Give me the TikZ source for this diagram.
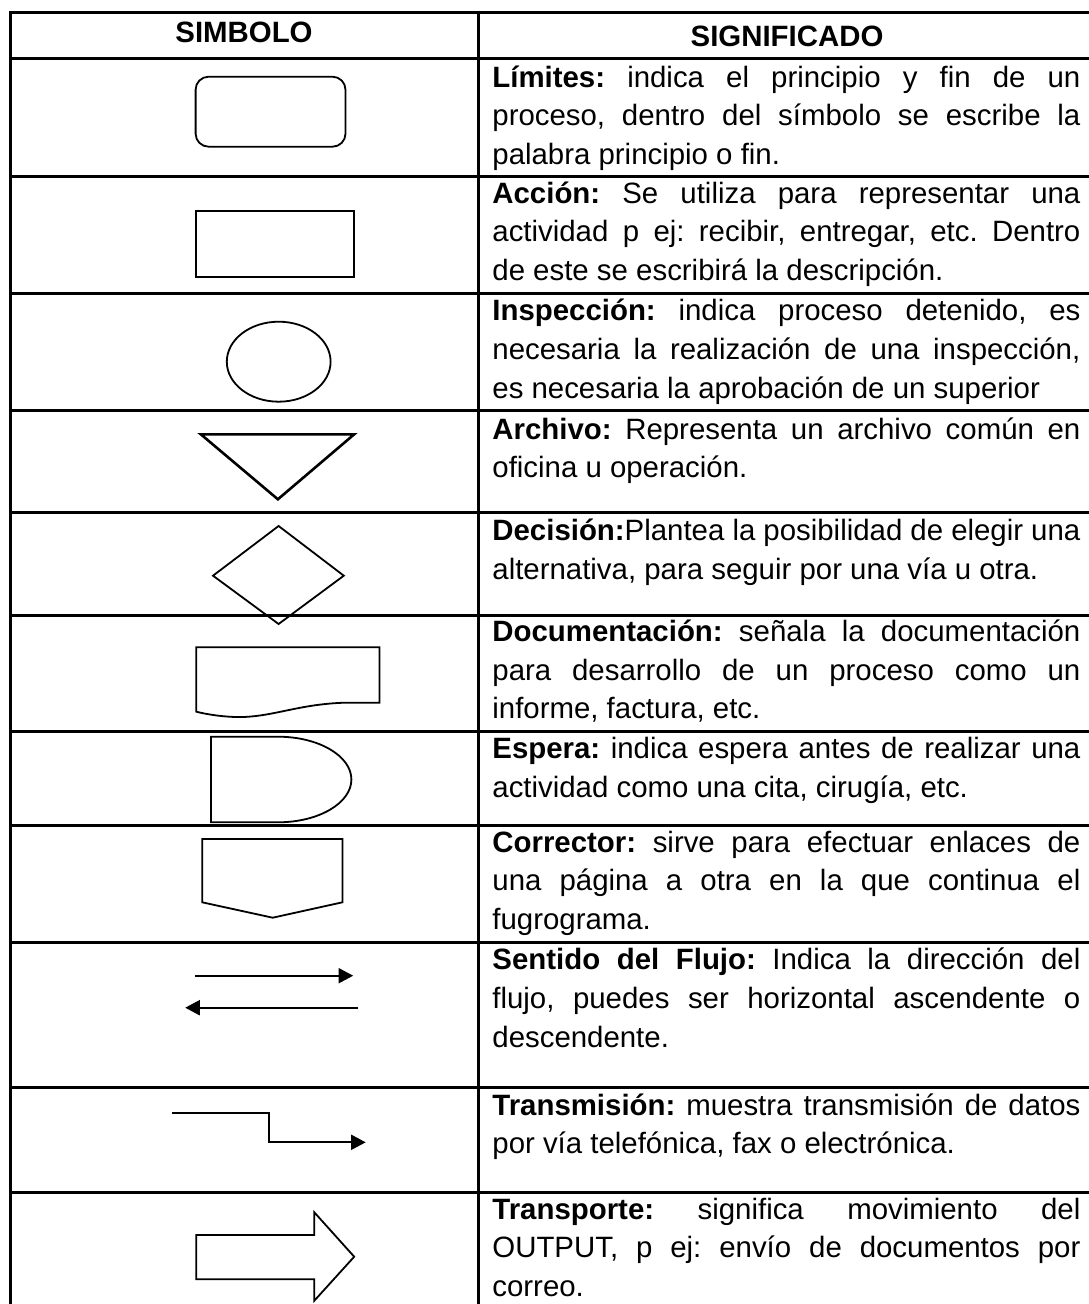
\documentclass[tikz,border=0pt]{standalone}
\usepackage{fontspec}
\setmainfont{Liberation Sans}
\usetikzlibrary{arrows.meta}
\frenchspacing
\newcommand\jline[1]{\hbox to 294pt{#1}}
\newcommand\lline[1]{\hbox{#1}}
\begin{document}
\frenchspacing
\begin{tikzpicture}[x=0.5pt,y=-0.5pt,
  border/.style={line width=1.5pt,line cap=rect},
  shp/.style={line width=0.9pt,line join=miter},
  txt/.style={anchor=base west,inner sep=0pt,font=\fontsize{14.7pt}{19.35pt}\selectfont},
  hdr/.style={anchor=base,inner sep=0pt,font=\fontsize{14.7pt}{19.35pt}\selectfont\bfseries},
  flow/.style={line width=1pt,-{Triangle[length=7.3pt,width=7.5pt]}}]
\useasboundingbox (0,0) rectangle (1088,1304);
\fill[white] (0,0) rectangle (1088,1304);
% table grid
\foreach \yy in {13,59,176.7,294,411,512.3,615,731,825.7,942.7,1087.7,1192.3}
  \draw[border] (10,\yy) -- (1090,\yy);
\draw[border] (10,13) -- (10,1306);
\draw[border] (478,13) -- (478,1306);
% headers
\node[hdr] (h1) at (244,42.7) {SIMBOLO};
\node[hdr] (h2) at (787,46.7) {SIGNIFICADO};
% symbols
\draw[shp,rounded corners=6.5pt] (195.6,76.7) rectangle (345.5,146.7);
\draw[shp] (196.3,211) rectangle (354.2,276.7);
\draw[shp] (278.7,361.7) ellipse [x radius=51.9,y radius=40];
\draw[line width=1.3pt,line join=miter] (200.8,434.3) -- (354.2,434.3) -- (277.9,499.3) -- cycle;
\draw[shp] (278.6,526) -- (343.8,575.7) -- (278.6,624) -- (213,575.7) -- cycle;
\draw[shp] (196.3,647.3) -- (379.5,647.3) -- (379.5,702.7) -- (345,702.7)
  .. controls (300,704) and (275,716) .. (243,717)
  .. controls (225,717.5) and (205,714) .. (196.3,711.7) -- cycle;
\draw[shp] (211,736.7) -- (278,736.7) arc[start angle=-90,end angle=90,x radius=73.4,y radius=42.8] -- (211,822.3) -- cycle;
\draw[shp] (202.2,839) -- (342.4,839) -- (342.4,902.3) -- (272.7,917.7) -- (202.2,902.3) -- cycle;
\coordinate (a1s) at (195.3,975.7);
\coordinate (a1e) at (353.2,975.7);
\coordinate (a2s) at (358.4,1007.7);
\coordinate (a2e) at (185.2,1007.7);
\draw[flow] (a1s) -- (a1e);
\draw[flow] (a2s) -- (a2e);
\coordinate (ts) at (172,1113.3);
\coordinate (te) at (365.7,1142.3);
\draw[flow] (ts) -- (269.2,1113.3) -- (269.2,1142.3) -- (te);
\draw[shp] (196.3,1235) -- (314.3,1235) -- (314.3,1212.3) -- (354.2,1256.7) -- (314.3,1300.7) -- (314.3,1279.3) -- (196.3,1279.3) -- cycle;
% meanings
\node[txt] (d1) at (492,87.3) {\vtop{%
  \jline{\textbf{Límites:} indica el principio y fin de un}
  \jline{proceso, dentro del símbolo se escribe la}
  \lline{palabra principio o fin.}}};
\node[txt] (d2) at (492,203.3) {\vtop{%
  \jline{\textbf{Acción:} Se utiliza para representar una}
  \jline{actividad p ej: recibir, entregar, etc. Dentro}
  \lline{de este se escribirá la descripción.}}};
\node[txt] (d3) at (492,320.7) {\vtop{%
  \jline{\textbf{Inspección:} indica proceso detenido, es}
  \jline{necesaria la realización de una inspección,}
  \lline{es necesaria la aprobación de un superior}}};
\node[txt] (d4) at (492,439) {\vtop{%
  \jline{\textbf{Archivo:} Representa un archivo común en}
  \lline{oficina u operación.}}};
\node[txt] (d5) at (492,540.7) {\vtop{%
  \jline{\textbf{Decisión:}Plantea la posibilidad de elegir una}
  \lline{alternativa, para seguir por una vía u otra.}}};
\node[txt] (d6) at (492,641.5) {\vtop{%
  \jline{\textbf{Documentación:} señala la documentación}
  \jline{para desarrollo de un proceso como un}
  \lline{informe, factura, etc.}}};
\node[txt] (d7) at (492,758.5) {\vtop{%
  \jline{\textbf{Espera:} indica espera antes de realizar una}
  \lline{actividad como una cita, cirugía, etc.}}};
\node[txt] (d8) at (492,852) {\vtop{%
  \jline{\textbf{Corrector:} sirve para efectuar enlaces de}
  \jline{una página a otra en la que continua el}
  \lline{fugrograma.}}};
\node[txt] (d9) at (492,969.8) {\vtop{%
  \jline{\textbf{Sentido del Flujo:} Indica la dirección del}
  \jline{flujo, puedes ser horizontal ascendente o}
  \lline{descendente.}}};
\node[txt] (d10) at (492,1115) {\vtop{%
  \jline{\textbf{Transmisión:} muestra transmisión de datos}
  \lline{por vía telefónica, fax o electrónica.}}};
\node[txt] (d11) at (492,1219) {\vtop{%
  \jline{\textbf{Transporte:} significa movimiento del}
  \jline{OUTPUT, p ej: envío de documentos por}
  \lline{correo.}}};
\end{tikzpicture}
\end{document}
